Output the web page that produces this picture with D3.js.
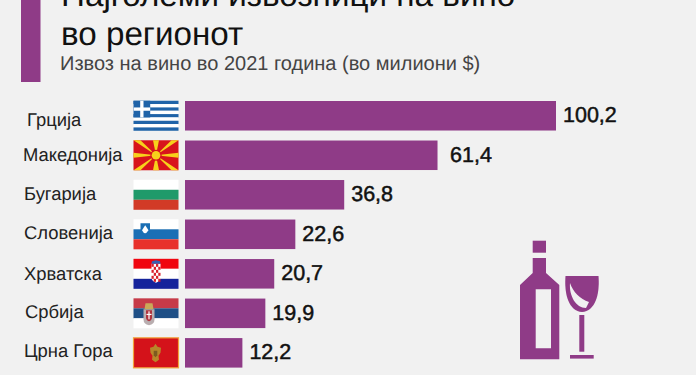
<!DOCTYPE html>
<html>
<head>
<meta charset="utf-8">
<script src="https://cdn.jsdelivr.net/npm/d3@7"></script>
<style>
    html, body {margin: 0; padding: 0; background: #f1f1f1; overflow: hidden;}
    svg {display: block; font-family: "Liberation Sans", Arial, sans-serif; text-rendering: geometricPrecision;}
</style>
</head>
<body>
<script>
const countries = ['Грција', 'Македонија', 'Бугарија', 'Словенија', 'Хрватска', 'Србија', 'Црна Гора'];
const flags = ['gr', 'mk', 'bg', 'si', 'hr', 'rs', 'me'];
const values = [100.2, 61.4, 36.8, 22.6, 20.7, 19.9, 12.2];
// The bars in the picture are not proportional to their printed values,
// so the lengths are read separately, in the units of the longest bar
const barLengths = [100.2, 68.2, 43, 29.8, 24.1, 21.7, 15.5];

const dim = {width: 696, height: 375};
const purple = '#8f3b87';
const fmt = d3.format('.1f');

const svg = d3.select('body').append('svg').attr('width', dim.width).attr('height', dim.height);

const x = d3.scaleLinear().domain([0, 100.2]).range([185, 556]);
const y = d3.scaleBand().domain(countries).range([101, 367.6]).paddingInner(.253).paddingOuter(0);

// Header
svg.append('rect').attr('x', 21).attr('y', 0).attr('width', 19.5).attr('height', 82).style('fill', purple);
svg.selectAll('text.title')
    .data(['Најголеми извозници на вино', 'во регионот'])
    .join('text').attr('class', 'title')
    .attr('x', 61)
    .attr('y', (d, i) => 6 + i * 39)
    .style('font-size', '33.2px')
    .style('fill', '#111')
    .text(d => d);
svg.append('text')
    .attr('x', 60).attr('y', 70)
    .style('font-size', '20px')
    .style('fill', '#444')
    .text('Извоз на вино во 2021 година (во милиони $)');

// Bars
svg.selectAll('rect.bar')
    .data(countries)
    .join('rect').attr('class', 'bar')
    .attr('x', x(0))
    .attr('y', d => y(d))
    .attr('width', (d, i) => x(barLengths[i]) - x(0))
    .attr('height', y.bandwidth())
    .style('fill', purple);

// Country names
const nameNudge = {'Грција': [27, 10], 'Македонија': [23, 6], 'Бугарија': [24, 5], 'Словенија': [24, 5], 'Хрватска': [24, 6.5], 'Србија': [25, 5], 'Црна Гора': [24, 4]};
svg.selectAll('text.name')
    .data(countries)
    .join('text').attr('class', 'name')
    .attr('x', d => nameNudge[d][0])
    .attr('y', d => y(d) + y.bandwidth() / 2 + nameNudge[d][1])
    .style('font-size', '18.4px')
    .style('fill', '#222')
    .text(d => d);

// Values, semi-bold look: regular weight thickened with a thin stroke
svg.selectAll('text.value')
    .data(countries)
    .join('text').attr('class', 'value')
    .attr('x', (d, i) => x(barLengths[i]) + (d === 'Македонија' ? 12.5 : 7))
    .attr('y', d => y(d) + y.bandwidth() / 2 + 6.5)
    .style('font-size', '21.5px')
    .style('fill', '#111')
    .style('stroke', '#111')
    .style('stroke-width', .5)
    .text((d, i) => fmt(values[i]).replace('.', ','));

// Flags, each drawn in a 45 x 30 box
const flagW = 45, flagH = 30;
const stripes = (g, colors) => {
    const sy = d3.scaleBand().domain(d3.range(colors.length)).range([0, flagH]);
    g.selectAll('rect.stripe').data(colors).join('rect').attr('class', 'stripe')
        .attr('y', (d, i) => sy(i)).attr('width', flagW).attr('height', sy.bandwidth()).style('fill', d => d);
};
const drawFlag = {
    gr(g) {
        stripes(g, ['#1f63a8', '#fff', '#1f63a8', '#fff', '#1f63a8', '#fff', '#1f63a8', '#fff', '#1f63a8']);
        g.append('rect').attr('width', 16.7).attr('height', 16.7).style('fill', '#1f63a8');
        g.append('rect').attr('x', 6.7).attr('width', 3.3).attr('height', 16.7).style('fill', '#fff');
        g.append('rect').attr('y', 6.7).attr('width', 16.7).attr('height', 3.3).style('fill', '#fff');
    },
    mk(g) {
        g.append('rect').attr('width', flagW).attr('height', flagH).style('fill', '#d8141c');
        const c = [22.5, 15];
        const rays = [[0, 0, 7, 0], [38, 0, 45, 0], [45, 30, 38, 30], [7, 30, 0, 30], [19.5, 0, 25.5, 0], [19.5, 30, 25.5, 30], [0, 12.5, 0, 17.5], [45, 12.5, 45, 17.5]];
        g.selectAll('path.ray').data(rays).join('path').attr('class', 'ray')
            .attr('d', r => `M${c}L${r[0]},${r[1]}L${r[2]},${r[3]}Z`).style('fill', '#f7d11b');
        g.append('circle').attr('cx', c[0]).attr('cy', c[1]).attr('r', 5.6).style('fill', '#d8141c');
        g.append('circle').attr('cx', c[0]).attr('cy', c[1]).attr('r', 4.3).style('fill', '#f7d11b');
    },
    bg(g) { stripes(g, ['#fff', '#1f9a6a', '#d23a26']); },
    si(g) {
        stripes(g, ['#fff', '#1a6fb5', '#e8312b']);
        g.append('path').attr('d', 'M7,4H16.5V11Q16.5,15 11.7,17Q7,15 7,11Z').style('fill', '#1a6fb5');
        g.append('path').attr('d', 'M8.5,11L11.7,6L15,11Q13,14 11.7,14Q10,14 8.5,11Z').style('fill', '#fff');
    },
    hr(g) {
        stripes(g, ['#f0050f', '#fff', '#15239b']);
        const cx = d3.range(4), cy = d3.range(6);
        g.append('path').attr('d', 'M18,5H27V19Q27,22 22.5,24Q18,22 18,19Z').style('fill', '#fff');
        cy.forEach(r => cx.forEach(k => {
            if ((r + k) % 2 === 0)
                g.append('rect').attr('x', 18 + k * 2.25).attr('y', 5 + r * 3).attr('width', 2.25).attr('height', 3).style('fill', '#d8202c');
        }));
        g.append('path').attr('d', 'M18.5,2.5L22.5,1.5L26.5,2.5L27,5H18Z').style('fill', '#3a5fb0');
    },
    rs(g) {
        stripes(g, ['#c63a48', '#1f4f86', '#fff']);
        g.append('path').attr('d', 'M10,11H21V21Q21,26 15.5,27Q10,26 10,21Z').style('fill', '#b9aeb0');
        g.append('path').attr('d', 'M12,5H19L20,11H11Z').style('fill', '#c9a858');
        g.append('path').attr('d', 'M12.5,12H18.5V19Q18.5,22 15.5,23Q12.5,22 12.5,19Z').style('fill', '#b0343e');
        g.append('rect').attr('x', 14.9).attr('y', 13).attr('width', 1.2).attr('height', 8).style('fill', '#fff');
        g.append('rect').attr('x', 13).attr('y', 15.5).attr('width', 5).attr('height', 1.2).style('fill', '#fff');
    },
    me(g) {
        g.append('rect').attr('width', flagW).attr('height', flagH).style('fill', '#d4121a')
            .style('stroke', '#f2a33a').style('stroke-width', 1.2);
        g.append('path').attr('d', 'M22,6L24,9L27.5,10L27,15L25,18L25.5,22L22,24.5L18.5,22L19,18L17,15L16.5,10L20,9Z').style('fill', '#b8862a');
        g.append('path').attr('d', 'M20.2,13H23.8V17.5L22,19.5L20.2,17.5Z').style('fill', '#7d5a20');
    }
};
svg.selectAll('g.flag')
    .data(countries)
    .join('g').attr('class', 'flag')
    .attr('transform', d => `translate(133.5,${y(d) + y.bandwidth() / 2 - flagH / 2})`)
    .each(function(d, i) { drawFlag[flags[i]](d3.select(this)); });

// Bottle and glass icon
const icon = svg.append('g').style('fill', '#8f3b87');
icon.append('rect').attr('x', 532.7).attr('y', 240.7).attr('width', 13.3).attr('height', 12);
icon.append('path').attr('fill-rule', 'evenodd')
    .attr('d', 'M532.7,258H546V273L559.3,285V359.3H520V285L532.7,273ZM535.7,289.3V348.3H551V289.3Z');
icon.append('path').attr('d', 'M565.5,276H598.5C600,295 595,311 582,312C569,311 564,295 565.5,276Z');
icon.append('path').attr('d', 'M570,283C573,292 580,299 589,302L586,308C576,308 569,296 570,283Z').style('fill', '#f1f1f1');
icon.append('rect').attr('x', 579.3).attr('y', 315).attr('width', 5).attr('height', 36.7);
icon.append('rect').attr('x', 570).attr('y', 355).attr('width', 23.7).attr('height', 3.6);
</script>
</body>
</html>
